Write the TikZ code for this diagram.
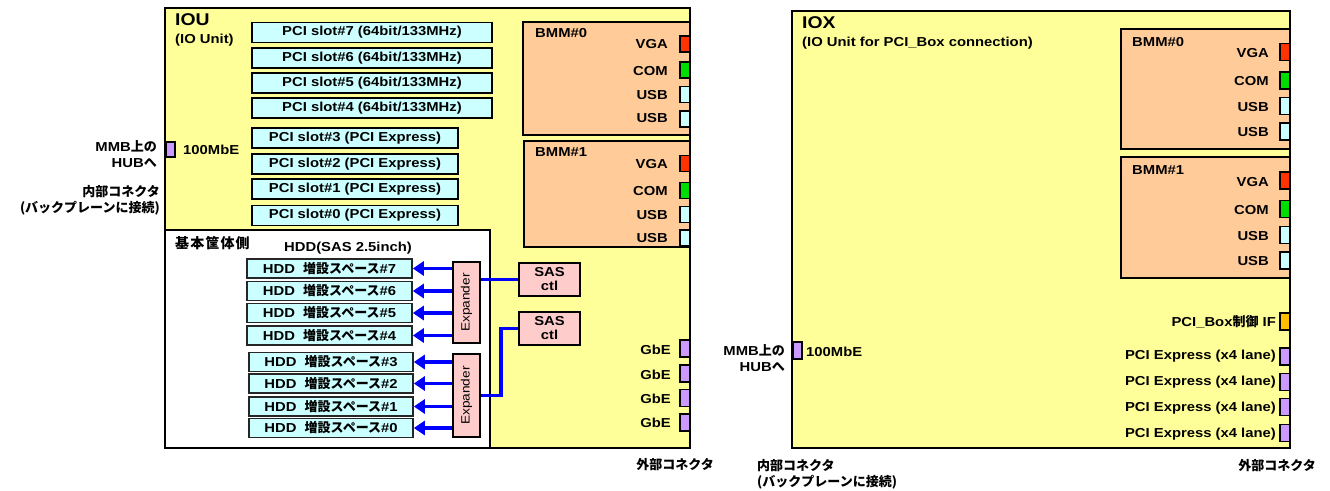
\documentclass[tikz,border=0pt]{standalone}
\usepackage{fontspec}
\setmainfont{Liberation Sans}[FakeStretch=1.14]
\newfontfamily\jpf{Noto Sans CJK JP}
\newcommand\jpt[1]{{\jpf #1}}
\usetikzlibrary{arrows.meta,calc}
\definecolor{unitfill}{HTML}{FFFF99}
\definecolor{slotfill}{HTML}{CCFFFF}
\definecolor{bmmfill}{HTML}{FFCC99}
\definecolor{pinkfill}{HTML}{FFCCCC}
\definecolor{vgafill}{HTML}{FF3300}
\definecolor{comfill}{HTML}{00DD00}
\definecolor{lanfill}{HTML}{CC99FF}
\definecolor{iffill}{HTML}{FFC000}
\definecolor{linkblue}{HTML}{0000FF}
\tikzset{
  unitbox/.style={draw=black, line width=2pt, fill=unitfill, inner sep=0},
  basebox/.style={draw=black, line width=1.6pt, fill=white, inner sep=0},
  slotbox/.style={draw=black, line width=1.6pt, fill=slotfill, inner sep=0, minimum height=20pt,
    font=\bfseries\fontsize{13}{13}\selectfont},
  hddbox/.style={draw=black!85, line width=1.6pt, fill=slotfill, inner sep=0, minimum height=19pt,
    font=\bfseries\fontsize{13}{13}\selectfont},
  bmmbox/.style={draw=black, line width=1.6pt, fill=bmmfill, inner sep=0},
  pinkbox/.style={draw=black, line width=1.6pt, fill=pinkfill, inner sep=0, align=center,
    font=\bfseries\fontsize{13}{14}\selectfont},
  portbox/.style={draw=black, line width=1.3pt, inner sep=0, minimum width=10pt, minimum height=16pt},
  lbl/.style={inner sep=0, font=\bfseries\fontsize{13}{16}\selectfont},
  title/.style={inner sep=0, font=\bfseries\fontsize{17}{18}\selectfont},
  hddarrow/.style={draw=linkblue, line width=3.6pt, -{Triangle[length=11pt,width=14pt]}},
  sasline/.style={draw=linkblue, line width=3.6pt},
}
\begin{document}
\begin{tikzpicture}[x=1pt,y=-1pt]
\useasboundingbox (0,0) rectangle (1330,490);

% ================= IOU =================
\node[unitbox, minimum width=525pt, minimum height=440pt] (iou) at (427.5,228) {};
\node[title, anchor=west] (iout) at (175,20) {IOU};
\node[lbl, anchor=west] (iousub) at (175,40) {(IO Unit)};

% PCI slots
\node[slotbox, minimum width=240pt] (s7) at (372,32.5) {PCI slot\#7 (64bit/133MHz)};
\node[slotbox, minimum width=240pt] (s6) at (372,58) {PCI slot\#6 (64bit/133MHz)};
\node[slotbox, minimum width=240pt] (s5) at (372,83) {PCI slot\#5 (64bit/133MHz)};
\node[slotbox, minimum width=240pt] (s4) at (372,108) {PCI slot\#4 (64bit/133MHz)};
\node[slotbox, minimum width=206pt] (s3) at (355,138) {PCI slot\#3 (PCI Express)};
\node[slotbox, minimum width=206pt] (s2) at (355,164) {PCI slot\#2 (PCI Express)};
\node[slotbox, minimum width=206pt] (s1) at (355,189) {PCI slot\#1 (PCI Express)};
\node[slotbox, minimum width=206pt] (s0) at (355,215.5) {PCI slot\#0 (PCI Express)};

% 100MbE
\node[portbox, fill=lanfill, minimum width=9pt, minimum height=15pt] (u100) at (170.5,149.5) {};
\node[lbl, anchor=west] (u100l) at (183,150) {100MbE};
\node[lbl, anchor=east, align=right] (ummb) at (157,154) {MMB\jpt{上の}\\HUB\jpt{へ}};
\node[lbl, anchor=east, align=right] (uint) at (160,200) {\jpt{内部コネクタ}\\\jpt{(バックプレーンに接続)}};

% BMM boxes
\node[bmmbox, minimum width=167pt, minimum height=113pt] (ub0) at (606.5,78.5) {};
\node[bmmbox, minimum width=166pt, minimum height=106pt] (ub1) at (607,194) {};
\node[lbl, anchor=west] (ub0l) at (535,33) {BMM\#0};
\node[lbl, anchor=west] (ub1l) at (535,152) {BMM\#1};

\node[portbox, fill=vgafill] (ub0v) at (685,44) {};
\node[portbox, fill=comfill] (ub0c) at (685,70) {};
\node[portbox, fill=slotfill] (ub0u1) at (685,94.5) {};
\node[portbox, fill=slotfill] (ub0u2) at (685,119) {};
\node[lbl, anchor=east] (ub0vl) at (668,44) {VGA};
\node[lbl, anchor=east] (ub0cl) at (668,71) {COM};
\node[lbl, anchor=east] (ub0u1l) at (668,95) {USB};
\node[lbl, anchor=east] (ub0u2l) at (668,118.5) {USB};

\node[portbox, fill=vgafill] (ub1v) at (685,163.5) {};
\node[portbox, fill=comfill] (ub1c) at (685,190.5) {};
\node[portbox, fill=slotfill] (ub1u1) at (685,214.5) {};
\node[portbox, fill=slotfill] (ub1u2) at (685,238) {};
\node[lbl, anchor=east] (ub1vl) at (668,164) {VGA};
\node[lbl, anchor=east] (ub1cl) at (668,191) {COM};
\node[lbl, anchor=east] (ub1u1l) at (668,215) {USB};
\node[lbl, anchor=east] (ub1u2l) at (668,238) {USB};

% base enclosure side
\node[basebox, minimum width=325pt, minimum height=218pt] (base) at (327.5,339) {};
\node[lbl, anchor=west, font=\bfseries\fontsize{14}{15}\selectfont] (basel) at (175,243)
  {\jpf\addfontfeature{LetterSpace=8}基本筐体側};
\node[lbl] (hddt) at (348,248) {HDD(SAS 2.5inch)};

\node[hddbox, minimum width=165pt] (h7) at (329.5,268.5) {HDD\ \ \jpt{増設スペース}\#7};
\node[hddbox, minimum width=165pt] (h6) at (329.5,291) {HDD\ \ \jpt{増設スペース}\#6};
\node[hddbox, minimum width=165pt] (h5) at (329.5,313) {HDD\ \ \jpt{増設スペース}\#5};
\node[hddbox, minimum width=165pt] (h4) at (329.5,335.5) {HDD\ \ \jpt{増設スペース}\#4};
\node[hddbox, minimum width=164pt] (h3) at (331,362) {HDD\ \ \jpt{増設スペース}\#3};
\node[hddbox, minimum width=164pt] (h2) at (331,383.5) {HDD\ \ \jpt{増設スペース}\#2};
\node[hddbox, minimum width=164pt] (h1) at (331,406.5) {HDD\ \ \jpt{増設スペース}\#1};
\node[hddbox, minimum width=164pt] (h0) at (331,428) {HDD\ \ \jpt{増設スペース}\#0};

\node[pinkbox, minimum width=27pt, minimum height=81pt,
  label={[rotate=90, inner sep=0, font=\fontsize{12}{12}\selectfont]center:Expander}] (e1) at (466.5,302.5) {};
\node[pinkbox, minimum width=27pt, minimum height=83pt,
  label={[rotate=90, inner sep=0, font=\fontsize{12}{12}\selectfont]center:Expander}] (e2) at (466.5,395.5) {};

\node[pinkbox, minimum width=61pt, minimum height=33pt] (sas1) at (549.5,279.5) {SAS\\ctl};
\node[pinkbox, minimum width=61pt, minimum height=33pt] (sas2) at (549.5,328.5) {SAS\\ctl};

\foreach \h in {h7,h6,h5,h4} \draw[hddarrow] (e1.west |- \h.east) -- (\h.east);
\foreach \h in {h3,h2,h1,h0} \draw[hddarrow] (e2.west |- \h.east) -- (\h.east);
\draw[sasline] (e1.east |- sas1.west) -- (sas1.west);
\draw[sasline] (e2.east) -- ++(20,0) |- (sas2.west);

% GbE
\node[portbox, fill=lanfill, minimum height=17pt] (g0) at (685,348.5) {};
\node[portbox, fill=lanfill, minimum height=17pt] (g1) at (685,373.5) {};
\node[portbox, fill=lanfill, minimum height=17pt] (g2) at (685,398) {};
\node[portbox, fill=lanfill, minimum height=17pt] (g3) at (685,422.5) {};
\node[lbl, anchor=east] (g0l) at (671,350) {GbE};
\node[lbl, anchor=east] (g1l) at (671,375) {GbE};
\node[lbl, anchor=east] (g2l) at (671,399) {GbE};
\node[lbl, anchor=east] (g3l) at (671,423) {GbE};

\node[lbl] (uext) at (675,465) {\jpt{外部コネクタ}};

% ================= IOX =================
\node[unitbox, minimum width=498pt, minimum height=437pt] (iox) at (1041,229.5) {};
\node[title, anchor=west] (ioxt) at (802,23) {IOX};
\node[lbl, anchor=west] (ioxsub) at (802,43) {(IO Unit for PCI\_Box connection)};

\node[bmmbox, minimum width=169pt, minimum height=120pt] (xb0) at (1205.5,89) {};
\node[bmmbox, minimum width=169pt, minimum height=121pt] (xb1) at (1205.5,217.5) {};
\node[lbl, anchor=west] (xb0l) at (1132,42) {BMM\#0};
\node[lbl, anchor=west] (xb1l) at (1132,170) {BMM\#1};

\node[portbox, fill=vgafill, minimum height=17pt] (xb0v) at (1285,52) {};
\node[portbox, fill=comfill, minimum height=17pt] (xb0c) at (1285,80.5) {};
\node[portbox, fill=slotfill, minimum height=17pt] (xb0u1) at (1285,106) {};
\node[portbox, fill=slotfill, minimum height=17pt] (xb0u2) at (1285,131.5) {};
\node[lbl, anchor=east] (xb0vl) at (1269,53) {VGA};
\node[lbl, anchor=east] (xb0cl) at (1269,81) {COM};
\node[lbl, anchor=east] (xb0u1l) at (1269,107) {USB};
\node[lbl, anchor=east] (xb0u2l) at (1269,132) {USB};

\node[portbox, fill=vgafill, minimum height=17pt] (xb1v) at (1285,180.5) {};
\node[portbox, fill=comfill, minimum height=17pt] (xb1c) at (1285,209) {};
\node[portbox, fill=slotfill, minimum height=17pt] (xb1u1) at (1285,235) {};
\node[portbox, fill=slotfill, minimum height=17pt] (xb1u2) at (1285,260.5) {};
\node[lbl, anchor=east] (xb1vl) at (1269,182) {VGA};
\node[lbl, anchor=east] (xb1cl) at (1269,210) {COM};
\node[lbl, anchor=east] (xb1u1l) at (1269,236) {USB};
\node[lbl, anchor=east] (xb1u2l) at (1269,261) {USB};

\node[portbox, fill=iffill, minimum height=17pt] (xif) at (1285,321.5) {};
\node[lbl, anchor=east] (xifl) at (1276,322) {PCI\_Box\jpt{制御} IF};

\node[portbox, fill=lanfill, minimum height=17pt] (xp0) at (1285,356.5) {};
\node[portbox, fill=lanfill, minimum height=17pt] (xp1) at (1285,382) {};
\node[portbox, fill=lanfill, minimum height=17pt] (xp2) at (1285,407) {};
\node[portbox, fill=lanfill, minimum height=17pt] (xp3) at (1285,433) {};
\node[lbl, anchor=east] (xp0l) at (1276,356) {PCI Express (x4 lane)};
\node[lbl, anchor=east] (xp1l) at (1276,382) {PCI Express (x4 lane)};
\node[lbl, anchor=east] (xp2l) at (1276,408) {PCI Express (x4 lane)};
\node[lbl, anchor=east] (xp3l) at (1276,434) {PCI Express (x4 lane)};

\node[portbox, fill=lanfill, minimum width=9pt, minimum height=17pt] (x100) at (797.5,350.5) {};
\node[lbl, anchor=west] (x100l) at (806,352) {100MbE};
\node[lbl, anchor=east, align=right] (xmmb) at (785,358) {MMB\jpt{上の}\\HUB\jpt{へ}};
\node[lbl, anchor=west, align=left] (xint) at (757,474) {\jpt{内部コネクタ}\\\jpt{(バックプレーンに接続)}};
\node[lbl] (xext) at (1277,466) {\jpt{外部コネクタ}};
\end{tikzpicture}
\end{document}
